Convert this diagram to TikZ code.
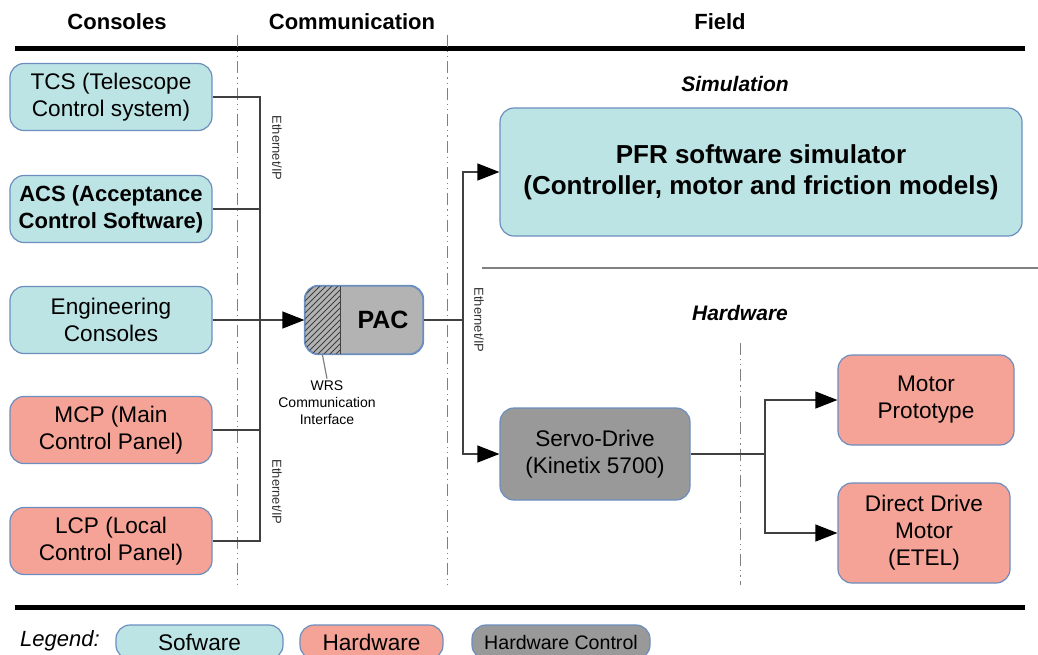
\documentclass[tikz,border=0pt]{standalone}
\usepackage{fontspec}
\setmainfont{Liberation Sans}
\usepackage{tikz}
\usetikzlibrary{arrows.meta}
\usetikzlibrary{patterns}
\definecolor{swfill}{HTML}{BDE4E4}
\definecolor{hwfill}{HTML}{F5A397}
\definecolor{ctrlfill}{HTML}{999999}
\definecolor{pacfill}{HTML}{B3B3B3}
\definecolor{edgeblue}{HTML}{6C8EBF}
\tikzset{
box/.style={
  draw=edgeblue,
  line width=0.6pt,
  rounded corners=7pt,
  align=center,
  inner sep=0pt,
  font=\fontsize{11.3}{13.5}\selectfont
},
swbox/.style={box,fill=swfill},
hwbox/.style={box,fill=hwfill},
ctrlbox/.style={box,fill=ctrlfill},
console/.style={minimum width=101pt,minimum height=33.5pt},
wire/.style={draw=black!75,line width=0.6pt},
arrowto/.style={-{Triangle[length=11pt,width=8.5pt,color=black]}},
divider/.style={gray,line width=0.5pt,dash pattern=on 6pt off 2pt on 0.6pt off 2pt on 0.6pt off 2pt},
thickrule/.style={line width=2.5pt},
header/.style={font=\bfseries\fontsize{11}{13}\selectfont},
zone/.style={font=\bfseries\itshape\fontsize{10.5}{13}\selectfont},
eth/.style={rotate=-90,font=\fontsize{6.5}{8}\selectfont,text=black!80},
%small/.style={font=\fontsize{7}{8.5}\selectfont},
}

\begin{document}
\begin{tikzpicture}[x=0.5pt,y=-0.5pt]
\clip (0,0) rectangle (1038,654);
% the headers and rules
\node[header] (hcons) at (117,22) {Consoles};
\node[header] (hcomm) at (352,22) {Communication};
\node[header] (hfield) at (720,22) {Field};
\draw[thickrule] (15,48) -- (1025,48);
\draw[thickrule] (15,607) -- (1025,607);
\foreach \x in {237,447}
{
  \draw[divider] (\x,35) -- (\x,585);
}
\draw[divider] (740,343) -- (740,585);
\draw[gray,line width=0.6pt] (482,268) -- (1038,268);
\node[zone] (sim) at (735,84) {Simulation};
\node[zone] (hw) at (740,313) {Hardware};
% the consoles
\node[swbox,console] (tcs) at (111,97) {TCS (Telescope\\Control system)};
\node[swbox,console,font=\bfseries\fontsize{11}{13.5}\selectfont] (acs) at (111,209) {ACS (Acceptance\\Control Software)};
\node[swbox,console] (eng) at (111,320) {Engineering\\Consoles};
\node[hwbox,console] (mcp) at (111,430) {MCP (Main\\Control Panel)};
\node[hwbox,console] (lcp) at (111,541) {LCP (Local\\Control Panel)};
% the PAC
\node[box,fill=pacfill,minimum width=59pt,minimum height=34pt] (pac) at (364,320) {};
\begin{scope}
\clip[rounded corners=7pt] (pac.south west) rectangle (pac.north east);
\fill[pattern=north east lines,pattern color=black!75] (pac.south west) rectangle ([xshift=18pt]pac.north west);
\end{scope}
\draw[black!75,line width=0.6pt] ([xshift=18pt]pac.north west) -- ([xshift=18pt]pac.south west);
\draw[draw=edgeblue,line width=0.6pt,rounded corners=7pt] (pac.south west) rectangle (pac.north east);
\node[font=\bfseries\fontsize{12.5}{15}\selectfont] (pactext) at (383,320) {PAC};
\coordinate (hatch) at ([xshift=9pt]pac.south west);
\node[align=center,inner sep=1pt,font=\fontsize{7}{8.5}\selectfont] (wrs) at (327,403) {WRS\\Communication\\Interface};
\draw[gray,line width=0.6pt] (hatch) -- (wrs.north);
% the field
\node[swbox,minimum width=261pt,minimum height=64pt,font=\bfseries\fontsize{13}{15.5}\selectfont] (pfr) at (761,172) {PFR software simulator\\(Controller, motor and friction models)};
\node[ctrlbox,minimum width=95pt,minimum height=46pt] (servo) at (595,454) {Servo-Drive\\(Kinetix 5700)};
\node[hwbox,minimum width=88pt,minimum height=45pt] (motor) at (926,400) {Motor\\Prototype};
\node[hwbox,minimum width=86pt,minimum height=50pt] (ddm) at (924,533) {Direct Drive\\Motor\\(ETEL)};
% the connections
\coordinate (cbus) at (260,0);
\coordinate (fbus) at (463,0);
\coordinate (mbus) at (765,0);
\draw[wire] (tcs.east) -| (cbus |- lcp.east) -- (lcp.east);
\draw[wire] (acs.east) -- (acs.east -| cbus);
\draw[wire] (mcp.east) -- (mcp.east -| cbus);
\draw[wire,arrowto] (eng.east) -- (pac.west);
\draw[wire,arrowto] (pac.east) -- (pac.east -| fbus) |- (pfr.west);
\draw[wire,arrowto] (pac.east -| fbus) |- (servo.west);
\draw[wire,arrowto] (servo.east) -- (servo.east -| mbus) |- (motor.west);
\draw[wire,arrowto] (servo.east -| mbus) |- (ddm.west);
\node[eth] (eth1) at (277,148) {Ethernet/IP};
\node[eth] (eth2) at (277,492) {Ethernet/IP};
\node[eth] (eth3) at (479,320) {Ethernet/IP};
% the legend
\node[font=\itshape\fontsize{11}{13}\selectfont] (leg) at (60,641) {Legend:};
\node[swbox,minimum width=83.5pt,minimum height=17pt] (lsw) at (199.5,642) {Sofware};
\node[hwbox,minimum width=71.5pt,minimum height=17pt] (lhw) at (371.5,642) {Hardware};
\node[ctrlbox,minimum width=89pt,minimum height=17pt,font=\fontsize{9.8}{12}\selectfont] (lctrl) at (561,642) {Hardware Control};
\end{tikzpicture}
\end{document}
